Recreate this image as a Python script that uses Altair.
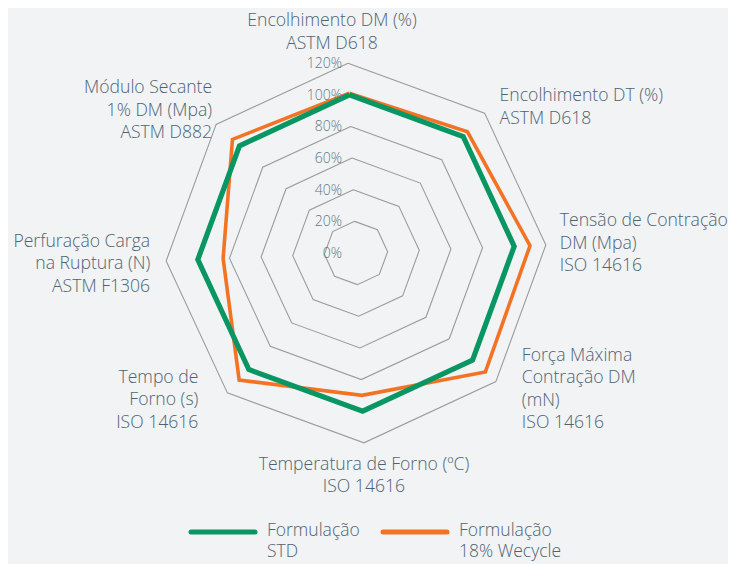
import altair as alt
import pandas as pd

# ---------------- data ----------------
categories = [
    "Encolhimento DM (%)\nASTM D618",
    "Encolhimento DT (%)\nASTM D618",
    "Tensão de Contração\nDM (Mpa)\nISO 14616",
    "Força Máxima\nContração DM\n(mN)\nISO 14616",
    "Temperatura de Forno (ºC)\nISO 14616",
    "Tempo de\nForno (s)\nISO 14616",
    "Perfuração Carga\nna Ruptura (N)\nASTM F1306",
    "Módulo Secante\n1% DM (Mpa)\nASTM D882",
]
series_names = ["Formulação\nSTD", "Formulação\n18% Wecycle"]
std_values = [100, 100, 100, 100, 100, 100, 100, 100]
wecycle_values = [101, 104, 110, 111, 90, 109, 84, 106]
grid_levels = [20, 40, 60, 80, 100, 120]
tick_values = [0, 20, 40, 60, 80, 100, 120]
tick_labels = ["0%", "20%", "40%", "60%", "80%", "100%", "120%"]

# ---------------- style / layout ----------------
GREEN = "#0a9663"
ORANGE = "#f37325"
TEXT = "#4e6372"
TICK = "#627888"
GRID = "#9b9b9b"
BG = "#f1f3f5"
FONT = "Open Sans"
FS = 17.6
FW = 300
ROT = -2.4            # degrees, slight rotation of the web
W, H = 720, 556
CX, CY = 348, 245     # centre in plot-area pixels
K = 190 / 120         # px per percent
n = len(categories)
STEP = 360 / n

xdom = [-CX / K, (W - CX) / K]
ydom = [-(H - CY) / K, CY / K]
xs = alt.Scale(domain=xdom, nice=False, zero=False)
ys = alt.Scale(domain=ydom, nice=False, zero=False)

# ---------------- tables ----------------
rows = []
for s, vals in zip(series_names, [std_values, wecycle_values]):
    for k in range(n + 1):
        rows.append({"series": s, "idx": k % n, "k": k, "value": vals[k % n]})
series_df = pd.DataFrame(rows)

grid_df = pd.DataFrame(
    [{"level": L, "idx": k % n, "k": k, "value": L} for L in grid_levels for k in range(n + 1)]
)
tick_df = pd.DataFrame({"value": tick_values, "label": tick_labels})
label_df = pd.DataFrame({"idx": list(range(n)), "cat": categories, "value": [max(grid_levels)] * n})
legend_df = pd.DataFrame({"series": series_names})


def polar(chart):
    return chart.transform_calculate(
        ang=f"(datum.idx * {STEP} + {ROT}) * PI / 180"
    ).transform_calculate(
        px="datum.value * sin(datum.ang)", py="datum.value * cos(datum.ang)"
    )


X = alt.X("px:Q", scale=xs, axis=None)
Y = alt.Y("py:Q", scale=ys, axis=None)

grid = polar(alt.Chart(grid_df)).mark_line(color=GRID, strokeWidth=1.1).encode(
    x=X, y=Y, detail="level:N", order="k:Q"
)

lines = []
for s, col, sw in [(series_names[1], ORANGE, 3.6), (series_names[0], GREEN, 5.2)]:
    lines.append(
        polar(alt.Chart(series_df).transform_filter(alt.datum.series == s))
        .mark_line(color=col, strokeWidth=sw, strokeJoin="miter")
        .encode(x=X, y=Y, order="k:Q")
    )

ticks = alt.Chart(tick_df).transform_calculate(px="0", py="datum.value").mark_text(
    align="right", baseline="middle", dx=-14, dy=1, fontSize=14, font=FONT,
    fontWeight=FW, color=TICK
).encode(x=X, y=Y, text="label:N")

# label placement: (align, dx, dy) relative to the outer vertex
label_pos = [
    ("center", -16, -51),
    ("left", 15, -26),
    ("left", 14, -33),
    ("left", 26, -35),
    ("center", 0, 13),
    ("right", -29, -24),
    ("right", -16, -28),
    ("right", -4, -45),
]
labels = []
for i, (al, dx, dy) in enumerate(label_pos):
    labels.append(
        polar(alt.Chart(label_df).transform_filter(alt.datum.idx == i))
        .mark_text(align=al, baseline="top", dx=dx, dy=dy, fontSize=FS, font=FONT,
                   fontWeight=FW, color=TEXT, lineBreak="\n", lineHeight=22.5)
        .encode(x=X, y=Y, text="cat:N")
    )

legend = []
for s, col, x0 in [(series_names[0], GREEN, 183), (series_names[1], ORANGE, 375)]:
    legend.append(
        alt.Chart(legend_df).transform_filter(alt.datum.series == s)
        .mark_rule(color=col, strokeWidth=5, strokeCap="round")
        .encode(x=alt.value(x0), x2=alt.value(x0 + 64), y=alt.value(524))
    )
    legend.append(
        alt.Chart(legend_df).transform_filter(alt.datum.series == s)
        .mark_text(align="left", baseline="top", fontSize=17.5, font=FONT, fontWeight=FW,
                   color=TEXT, lineBreak="\n", lineHeight=20.5)
        .encode(x=alt.value(x0 + 76), y=alt.value(514), text="series:N")
    )

chart = alt.layer(grid, *lines, ticks, *labels, *legend).properties(
    width=W, height=H, padding=0, autosize="none", background=BG
).configure_view(stroke=None)

chart.save("out.html", embed_options={"renderer": "svg", "actions": False})
